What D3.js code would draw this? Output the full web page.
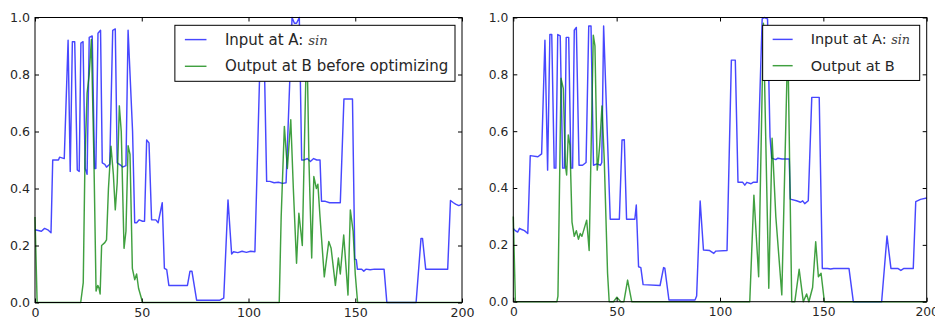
<!DOCTYPE html>
<html>
<head>
<meta charset="utf-8">
<script src="https://cdn.jsdelivr.net/npm/d3@7"></script>
<style>
  body { margin: 0; background: #fff; }
  text { font-family: "DejaVu Sans", sans-serif; fill: #262626; }
</style>
</head>
<body>
<svg id="chart" width="935" height="323"></svg>
<script>
// values, [x, y]
const leftInput = [[0,0.255],[3,0.25],[4.5,0.26],[6,0.255],[7.5,0.245],[8.3,0.5],[11,0.5],[11.5,0.51],[13.7,0.505],
  [15.5,0.92],[16.5,0.46],[17.5,0.915],[18.6,0.915],[19.8,0.465],[20.7,0.46],
  [21.5,0.91],[22.5,0.915],[23.5,0.47],[24.4,0.45],
  [25.4,0.93],[26.8,0.935],[27.9,0.47],[28.5,0.47],
  [29.5,0.945],[30.7,0.955],[31.5,0.49],[32.7,0.485],[33.5,0.475],[35,0.485],
  [36.4,0.955],[37.6,0.96],[38.5,0.49],[40.4,0.48],[41,0.475],[42.6,0.48],
  [43.6,0.955],[45.7,0.6],[46.7,0.28],[47.6,0.28],[48.8,0.29],[50.4,0.285],[51.3,0.285],
  [52.3,0.57],[53.4,0.56],[54.6,0.29],[56.6,0.29],[57.7,0.28],
  [59.6,0.35],[60.6,0.12],[61.7,0.115],[62.7,0.06],[71.4,0.06],
  [72.6,0.11],[73.5,0.11],[75.7,0.008],[86.6,0.008],[88.4,0.015],
  [90.4,0.36],[92.1,0.17],[93,0.178],[95,0.175],[97,0.18],[99,0.176],[101,0.18],[103,0.178],
  [105.4,0.85],[107.4,0.85],[108.5,0.425],[110,0.425],[112,0.42],[114,0.422],[116,0.418],[117.6,0.42],
  [120.4,1.0],[121.5,0.98],[122.5,0.98],[123.8,1.0],[124.9,0.5],[126,0.5],[127.5,0.505],[129,0.495],[130.5,0.505],[132,0.5],[133.5,0.5],
  [134.2,0.355],[136,0.355],[138,0.35],[140,0.35],[143,0.35],
  [144.7,0.714],[148.7,0.714],[149.8,0.152],[150.5,0.15],[151,0.117],[153,0.117],[154,0.11],[155,0.117],[157,0.115],[159,0.117],[163.5,0.117],
  [164.8,0],[178.5,0],[180.8,0.225],[181.5,0.225],[183,0.117],[193.3,0.117],
  [194.6,0.358],[196,0.35],[197,0.345],[198.5,0.34],[200,0.345]];

const leftOutput = [[0,0.3],[1,0],[21.4,0],[22.6,0.07],[23.4,0.5],[24.4,0.735],[25.4,0.8],[26.4,0.923],[27.6,0.5],
  [28.6,0.04],[29.4,0.06],[30,0.05],[30.5,0.03],[31.2,0.2],[32.7,0.21],[33.5,0.22],[34.4,0.4],[35.6,0.548],
  [36.7,0.45],[37.6,0.325],[38.5,0.42],[39.5,0.69],[40.4,0.6],[41.7,0.19],[42.6,0.25],[43.6,0.55],[44.5,0.52],
  [45.6,0.12],[46.7,0.08],[47.6,0.1],[48.5,0.05],[50.4,0],[114.4,0],[115.3,0.3],[116.8,0.618],[118.2,0.47],
  [119.8,0.641],[121,0.4],[122.5,0.138],[123.6,0.313],[124.5,0.25],[125.2,0.2],[127.3,0.95],[128.3,0.5],
  [129.6,0.156],[130.6,0.442],[131.8,0.4],[132.5,0.415],[133.5,0.3],[135.5,0.09],[137.6,0.214],[138.7,0.19],
  [140.7,0.06],[142.1,0.156],[143,0.1],[144.6,0.237],[146.6,0.026],[147.7,0.325],[149,0.25],[150,0.1],[151.1,0],[200,0]];

const rightInput = [[0,0.258],[1,0.25],[2.1,0.245],[3,0.258],[3.8,0.255],[5.4,0.25],[7,0.24],[8.2,0.514],[11.9,0.51],[13.7,0.52],
  [15.3,0.92],[16.6,0.463],[17.7,0.94],[18.6,0.94],[19.8,0.47],[20.6,0.47],
  [21.5,0.94],[22.7,0.935],[23.9,0.47],[24.8,0.47],
  [25.6,0.93],[26.8,0.93],[27.9,0.47],[28.7,0.47],
  [29.5,0.955],[30.5,0.965],[31.8,0.48],[33.5,0.48],[35.2,0.49],
  [36.5,0.97],[37.6,0.97],[38.8,0.48],[40.5,0.485],[42.2,0.48],[42.8,0.49],
  [43.7,0.97],[46.9,0.29],[51.3,0.29],
  [52.6,0.569],[53.7,0.57],[54.8,0.29],[58.8,0.29],[59.5,0.34],[60.6,0.123],[61.7,0.12],[62.8,0.06],[71,0.057],
  [72.7,0.12],[73.3,0.118],[75.3,0.006],[87.9,0.006],[88.7,0.02],[90.4,0.354],[92,0.182],[95,0.18],[97,0.17],[98,0.178],[103.4,0.18],
  [105.5,0.85],[107.4,0.85],[108.7,0.42],[111,0.42],[112,0.41],[113,0.42],[115,0.415],[116,0.42],[118,0.42],
  [120.4,0.995],[121.5,1.0],[123,0.995],[124.2,0.58],[125,0.505],[127,0.5],[128,0.505],[130,0.502],[133.5,0.502],
  [134,0.361],[137,0.355],[139,0.35],[140,0.355],[141,0.345],[142.7,0.355],[144.4,0.719],[148,0.719],
  [149.5,0.117],[152,0.117],[153.5,0.115],[155,0.117],[162.4,0.117],
  [164.5,0],[178.2,0],[180.8,0.231],[182.7,0.117],[186,0.117],[187.5,0.11],[189,0.117],[193.5,0.117],
  [194.7,0.352],[197,0.36],[200,0.365]];

const rightOutput = [[0,0.3],[1,0],[21.1,0],[21.6,0.02],[23.1,0.786],[24.2,0.75],[25.2,0.48],[25.8,0.446],[26.6,0.587],
  [27.4,0.55],[28.4,0.28],[29.5,0.23],[30.5,0.25],[31.5,0.22],[32.4,0.24],[33.2,0.23],[35.5,0.287],[36.7,0.18],
  [38.7,0.938],[39.5,0.9],[40.6,0.463],[41.2,0.5],[41.8,0.55],[42.9,0.689],[44,0.5],[45.6,0.1],[46.4,0],[48.5,0],
  [50.1,0.016],[52,0],[53.5,0],[55.3,0.076],[57.3,0],[114.4,0],[116.4,0.375],[118.7,0.088],[121,0.98],[123.6,0.047],
  [125.2,0.575],[127,0.3],[129.9,0.024],[132.8,0.92],[134.7,0],[136.2,0],[138.3,0.114],[140.3,0],[141.9,0.027],
  [143,0],[144.8,0.05],[146.3,0.211],[147.6,0.088],[148.9,0.1],[150.5,0],[200,0]];

const xTicks = [0, 50, 100, 150, 200];
const yTicks = [0, 0.2, 0.4, 0.6, 0.8, 1.0];
const inputLabel = "Input at A: ";
const inputMath = "sin";
const leftOutputLabel = "Output at B before optimizing";
const rightOutputLabel = "Output at B";

const svg = d3.select("#chart");

function drawPanel(p) {
  const x = d3.scaleLinear().domain([0, 200]).range([p.x0, p.x1]);
  const y = d3.scaleLinear().domain([0, 1]).range([p.y1, p.y0]);
  const g = svg.append("g");

  const line = d3.line().x(d => x(d[0])).y(d => y(d[1]));
  g.append("path").datum(p.input).attr("d", line)
    .attr("fill", "none").attr("stroke", "#0000ff").attr("stroke-opacity", 0.72).attr("stroke-width", 1.45)
    .attr("stroke-linejoin", "round");
  g.append("path").datum(p.output).attr("d", line)
    .attr("fill", "none").attr("stroke", "#008000").attr("stroke-opacity", 0.75).attr("stroke-width", 1.45)
    .attr("stroke-linejoin", "round");

  // ticks inward on all four sides (classic style)
  const fmtY = d3.format(".1f");
  const ax = [
    g.append("g").attr("transform", `translate(${p.x0},0)`)
      .call(d3.axisLeft(y).tickValues(yTicks).tickFormat(fmtY).tickSize(-4).tickSizeOuter(0).tickPadding(5)),
    g.append("g").attr("transform", `translate(${p.x1},0)`)
      .call(d3.axisRight(y).tickValues(yTicks).tickFormat("").tickSize(-4).tickSizeOuter(0)),
    g.append("g").attr("transform", `translate(0,${p.y1})`)
      .call(d3.axisBottom(x).tickValues(xTicks).tickSize(-4).tickSizeOuter(0).tickPadding(6)),
    g.append("g").attr("transform", `translate(0,${p.y0})`)
      .call(d3.axisTop(x).tickValues(xTicks).tickFormat("").tickSize(-4).tickSizeOuter(0))
  ];
  ax.forEach(a => {
    a.select(".domain").remove();
    a.selectAll("line").attr("stroke", "#000");
    a.selectAll("text").attr("font-family", "DejaVu Sans").attr("font-size", p.tickFont).attr("fill", "#222");
  });

  g.append("rect").attr("x", p.x0).attr("y", p.y0)
    .attr("width", p.x1 - p.x0).attr("height", p.y1 - p.y0)
    .attr("fill", "none").attr("stroke", "#000").attr("stroke-width", 1);

  // legend, upper right
  const lg = g.append("g");
  const box = lg.append("rect").attr("fill", "#fff").attr("stroke", "#000").attr("stroke-width", 1);
  const rows = [
    { color: "#0000ff", op: 0.72, main: inputLabel, math: inputMath },
    { color: "#008000", op: 0.75, main: p.outLabel, math: null }
  ];
  const texts = rows.map((r, i) => {
    const t = lg.append("text").attr("font-size", p.legFont).attr("dominant-baseline", "central");
    t.append("tspan").text(r.main);
    if (r.math) t.append("tspan").attr("font-family", "DejaVu Serif").attr("font-style", "italic")
      .attr("font-size", p.legFont * 0.88).attr("fill", "#444").text(r.math);
    return t;
  });
  const tw = d3.max(texts, t => t.node().getComputedTextLength());
  const right = p.x1 - 7, top = p.y0 + 7.8;
  const left = right - (p.legPadR + tw + p.legGap + p.legLine + 10);
  const h = 56 * p.s;
  box.attr("x", left).attr("y", top).attr("width", right - left).attr("height", h);
  rows.forEach((r, i) => {
    const cy = top + (14.3 + i * 26.7) * p.s;
    lg.append("line").attr("x1", left + 10).attr("x2", left + 10 + p.legLine)
      .attr("y1", cy).attr("y2", cy).attr("stroke", r.color).attr("stroke-opacity", r.op).attr("stroke-width", 1.45);
    texts[i].attr("x", left + 10 + p.legLine + p.legGap).attr("y", cy);
  });
}

drawPanel({ x0: 35, x1: 462, y0: 17.5, y1: 302.5, input: leftInput, output: leftOutput,
  outLabel: leftOutputLabel, tickFont: 12.6, legFont: 15, s: 1, legLine: 21.6, legGap: 18.4, legPadR: 6.7 });
drawPanel({ x0: 513.3, x1: 926.7, y0: 17.5, y1: 301.7, input: rightInput, output: rightOutput,
  outLabel: rightOutputLabel, tickFont: 12.3, legFont: 14.5, s: 0.985, legLine: 20, legGap: 18, legPadR: 9.7 });
</script>
</body>
</html>
